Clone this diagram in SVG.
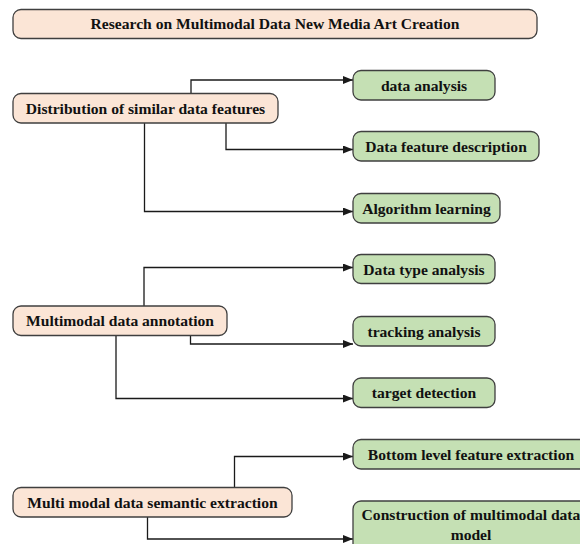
<svg xmlns="http://www.w3.org/2000/svg" width="580" height="544" viewBox="0 0 580 544">
<style>
.peach{fill:#fbe5d6;stroke:#3f3f3f;stroke-width:1.3}
.green{fill:#c5e0b4;stroke:#3f3f3f;stroke-width:1.3}
text{font-family:"Liberation Serif","Times New Roman",serif;font-weight:bold;font-size:15.6px;fill:#111;text-anchor:middle}
.conn path{fill:none;stroke:#1a1a1a;stroke-width:1.3;marker-end:url(#arr)}
</style>
<defs>
<marker id="arr" viewBox="0 0 10 8" refX="10" refY="4" markerWidth="10" markerHeight="8" markerUnits="userSpaceOnUse" orient="auto">
<path d="M0,0 L10,4 L0,8 Z" fill="#1a1a1a"/>
</marker>
</defs>
<rect width="580" height="544" fill="#ffffff"/>
<g class="conn" id="connectors">
<path d="M191,94 V80 H353"/>
<path d="M226,123 V149.5 H353"/>
<path d="M144.5,123 V211.5 H353"/>
<path d="M144,306 V267.5 H353"/>
<path d="M190.5,336 V344 H353"/>
<path d="M116,336 V398.5 H353"/>
<path d="M234.5,487.5 V456.5 H353"/>
<path d="M147.5,517 V539 H353"/>
</g>
<g id="title">
<rect class="peach" x="13" y="9.5" width="524" height="29" rx="8"/>
<text x="275" y="29">Research on Multimodal Data New Media Art Creation</text>
</g>
<g id="n-distribution">
<rect class="peach" x="13" y="93.5" width="265" height="29.5" rx="8"/>
<text x="145.5" y="113.5">Distribution of similar data features</text>
</g>
<g id="n-data-analysis">
<rect class="green" x="353" y="70.5" width="142" height="29.5" rx="8"/>
<text x="424" y="90.5">data analysis</text>
</g>
<g id="n-data-feature-description">
<rect class="green" x="353" y="131.5" width="186" height="29.5" rx="8"/>
<text x="446" y="151.5">Data feature description</text>
</g>
<g id="n-algorithm-learning">
<rect class="green" x="353" y="193.5" width="147" height="29.5" rx="8"/>
<text x="426.5" y="213.5">Algorithm learning</text>
</g>
<g id="n-annotation">
<rect class="peach" x="13" y="306" width="214" height="29.5" rx="8"/>
<text x="120" y="326">Multimodal data annotation</text>
</g>
<g id="n-data-type-analysis">
<rect class="green" x="353" y="254.5" width="142" height="29" rx="8"/>
<text x="424" y="274.5">Data type analysis</text>
</g>
<g id="n-tracking-analysis">
<rect class="green" x="353" y="316.5" width="142" height="29.5" rx="8"/>
<text x="424" y="336.5">tracking analysis</text>
</g>
<g id="n-target-detection">
<rect class="green" x="353" y="378" width="142" height="29.5" rx="8"/>
<text x="424" y="398">target detection</text>
</g>
<g id="n-semantic-extraction">
<rect class="peach" x="13" y="487.5" width="279" height="29.5" rx="8"/>
<text x="152.5" y="507.5">Multi modal data semantic extraction</text>
</g>
<g id="n-bottom-level">
<rect class="green" x="353" y="439.5" width="236" height="29.5" rx="8"/>
<text x="471" y="459.5">Bottom level feature extraction</text>
</g>
<g id="n-construction">
<rect class="green" x="353" y="501" width="236" height="60" rx="8"/>
<text x="471" y="520">Construction of multimodal data</text>
<text x="471" y="540">model</text>
</g>
</svg>
